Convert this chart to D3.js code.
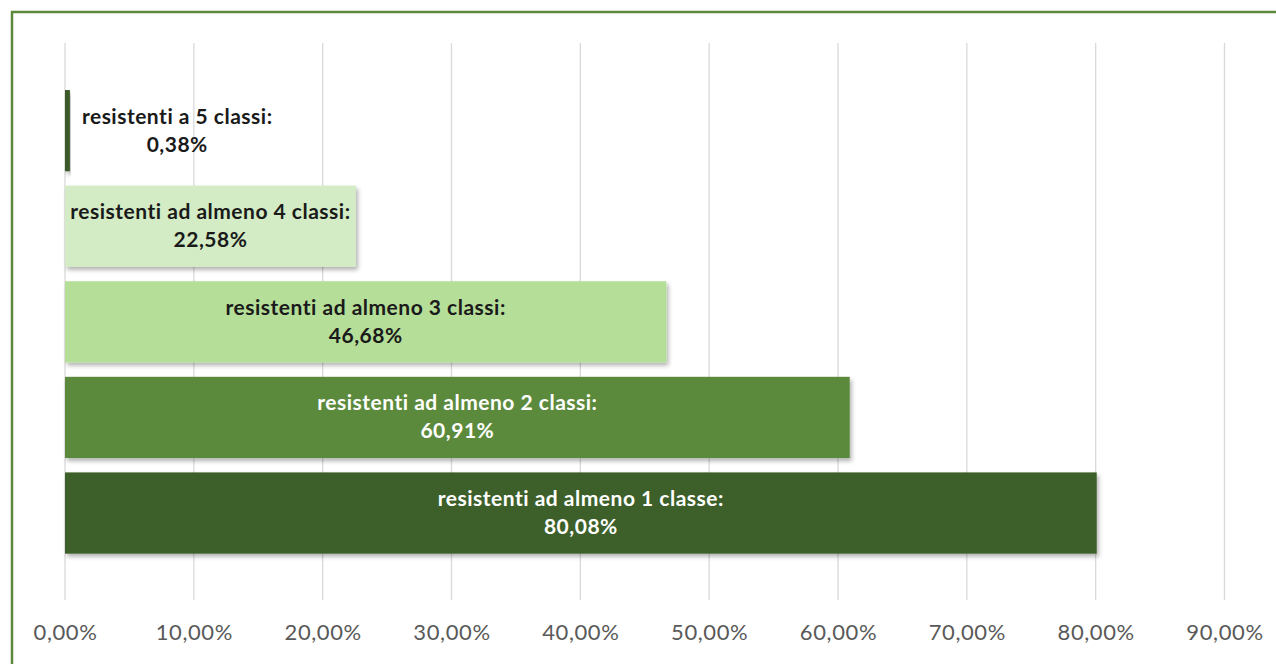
<!DOCTYPE html>
<html>
<head>
<meta charset="utf-8">
<script src="https://cdn.jsdelivr.net/npm/d3@7"></script>
<style>
  html, body { margin: 0; padding: 0; background: #fff; }
  svg { display: block; }
</style>
</head>
<body>
<svg id="chart" width="1276" height="664"></svg>
<script>
const categories = [
  "resistenti a 5 classi:",
  "resistenti ad almeno 4 classi:",
  "resistenti ad almeno 3 classi:",
  "resistenti ad almeno 2 classi:",
  "resistenti ad almeno 1 classe:"
];
const values = [0.38, 22.58, 46.68, 60.91, 80.08];
const valueLabels = ["0,38%", "22,58%", "46,68%", "60,91%", "80,08%"];
const barColors = ["#3b5a2b", "#d4ecc5", "#b5de99", "#5b8a3d", "#3e6029"];
const labelColors = ["#1a1a1a", "#1a1a1a", "#1a1a1a", "#ffffff", "#ffffff"];
const tickValues = [0, 10, 20, 30, 40, 50, 60, 70, 80, 90];
const tickLabels = ["0,00%", "10,00%", "20,00%", "30,00%", "40,00%", "50,00%", "60,00%", "70,00%", "80,00%", "90,00%"];

const svg = d3.select("#chart");
const W = 1276, H = 664;

// border
svg.append("path")
  .attr("d", `M12,${H + 5} L12,12 L${W + 5},12`)
  .attr("fill", "none")
  .attr("stroke", "#5b8a3a")
  .attr("stroke-width", 2.5);

const defs = svg.append("defs");
const f = defs.append("filter").attr("id", "shadow")
  .attr("x", "-5%").attr("y", "-10%").attr("width", "115%").attr("height", "130%");
f.append("feDropShadow").attr("dx", 2).attr("dy", 3).attr("stdDeviation", 2)
  .attr("flood-color", "#000").attr("flood-opacity", 0.3);

const x = d3.scaleLinear().domain([0, 90]).range([65, 1224.5]);
const y = d3.scaleBand().domain(categories).range([75.7, 568]).paddingInner(0.15).paddingOuter(0.15);

const gridTop = 43, gridBottom = 600;

// gridlines
svg.append("g").selectAll("line").data(tickValues).join("line")
  .attr("x1", d => x(d)).attr("x2", d => x(d))
  .attr("y1", gridTop).attr("y2", gridBottom)
  .attr("stroke", "#d9d9d9").attr("stroke-width", 1.3);

// axis labels
const axis = d3.axisBottom(x).tickValues(tickValues)
  .tickFormat((d, i) => tickLabels[i]).tickSize(0).tickPadding(0);
const gAxis = svg.append("g").attr("transform", `translate(0,${gridBottom + 24})`).call(axis);
gAxis.select(".domain").remove();
gAxis.selectAll("text")
  .attr("font-family", "Lato, 'Open Sans', sans-serif")
  .attr("font-size", 22)
  .attr("letter-spacing", 0.6)
  .attr("fill", "#595959")
  .attr("dy", "0.71em");

// bars
svg.append("g").selectAll("rect").data(categories).join("rect")
  .attr("x", x(0))
  .attr("y", d => y(d))
  .attr("width", (d, i) => Math.max(2.5, x(values[i]) - x(0)))
  .attr("height", y.bandwidth())
  .attr("fill", (d, i) => barColors[i])
  .attr("filter", "url(#shadow)");

// labels
const lg = svg.append("g");
categories.forEach((c, i) => {
  const t = lg.append("text")
    .attr("font-family", "Lato, 'Open Sans', sans-serif")
    .attr("font-weight", "bold")
    .attr("font-size", 21)
    .attr("letter-spacing", 0.5)
    .attr("fill", labelColors[i])
    .attr("text-anchor", "middle");
  const cy = y(c) + y.bandwidth() / 2;
  const l1 = t.append("tspan").text(c).attr("y", cy - 7);
  const l2 = t.append("tspan").text(valueLabels[i]).attr("y", cy + 21);
  const w = l1.node().getComputedTextLength();
  const barW = x(values[i]) - x(0);
  let cx = x(0) + barW / 2;
  if (w > barW) cx = x(values[i]) + 12 + w / 2;
  l1.attr("x", cx);
  l2.attr("x", cx);
});
</script>
</body>
</html>
